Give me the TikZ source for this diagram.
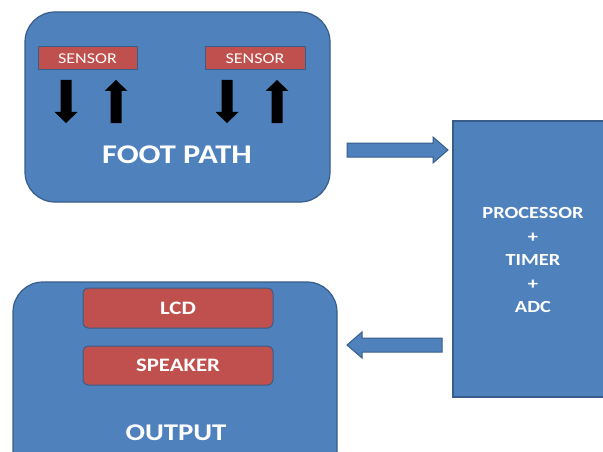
\documentclass[tikz,border=0pt]{standalone}
\usepackage{fontspec}
\setmainfont{Carlito}[FakeStretch=1.2]
\definecolor{boxblue}{HTML}{4F81BD}
\definecolor{edgeblue}{HTML}{385D8A}
\definecolor{boxred}{HTML}{C0504D}
\tikzset{
  panel/.style={draw=edgeblue, line width=1.2pt, fill=boxblue, rounded corners=30pt},
  plainbox/.style={draw=edgeblue, line width=1.2pt, fill=boxblue},
  redbox/.style={draw=edgeblue, line width=1pt, fill=boxred, rounded corners=5pt},
  sensorbox/.style={draw=edgeblue, line width=1pt, fill=boxred},
  label/.style={text=white, font=\bfseries},
  blockarrow/.style={draw=edgeblue, line width=1pt, fill=boxblue},
  pics/downarrow/.style={code={
    \fill[black] (-5.5,0) -- (5.5,0) -- (5.5,32) -- (11.5,32) -- (0,43)
      -- (-11.5,32) -- (-5.5,32) -- cycle;}},
  pics/uparrow/.style={code={
    \fill[black] (-5.5,43) -- (5.5,43) -- (5.5,11) -- (11.5,11) -- (0,0)
      -- (-11.5,11) -- (-5.5,11) -- cycle;}}
}
\begin{document}
\begin{tikzpicture}[x=1pt, y=-1pt]
\useasboundingbox (0,0) rectangle (603,452);
\clip (0,0) rectangle (603,452);
\fill[white] (0,0) rectangle (603,452);

% foot path panel with two sensors
\draw[panel] (25,12) rectangle (330,202);
\draw[sensorbox] (38,47) rectangle (137,70);
\node[text=white, font=\fontsize{15}{17}\selectfont] (s1) at (87.5,58.5) {SENSOR};
\draw[sensorbox] (205,47) rectangle (305,70);
\node[text=white, font=\fontsize{15}{17}\selectfont] (s2) at (255,58.5) {SENSOR};
\pic at (66,80) {downarrow};
\pic at (116,80) {uparrow};
\pic at (227,80) {downarrow};
\pic at (277,80) {uparrow};
\node[label, font=\bfseries\fontsize{27}{30}\selectfont] (footlbl) at (177,155) {FOOT PATH};

% processor block
\draw[plainbox] (453,121) rectangle (615,397);
\node[label, font=\bfseries\fontsize{17}{23.5}\selectfont, align=center] (proc) at (533,260)
  {PROCESSOR\\+\\TIMER\\+\\ADC};

% output panel
\draw[panel] (13,282) rectangle (337,480);
\draw[redbox] (83,288) rectangle (273,328);
\node[label, font=\bfseries\fontsize{19}{22}\selectfont] (lcd) at (178,308) {LCD};
\draw[redbox] (83,346) rectangle (273,385);
\node[label, font=\bfseries\fontsize{19}{22}\selectfont] (spk) at (178,365.5) {SPEAKER};
\node[label, font=\bfseries\fontsize{24}{28}\selectfont] (outlbl) at (176,433) {OUTPUT};

% block arrows between the stages
\draw[blockarrow] (347,143) -- (433,143) -- (433,137) -- (448,150) -- (433,163)
  -- (433,157) -- (347,157) -- cycle;
\draw[blockarrow] (442,338) -- (362,338) -- (362,332) -- (347,345) -- (362,358)
  -- (362,352) -- (442,352) -- cycle;
\end{tikzpicture}
\end{document}
